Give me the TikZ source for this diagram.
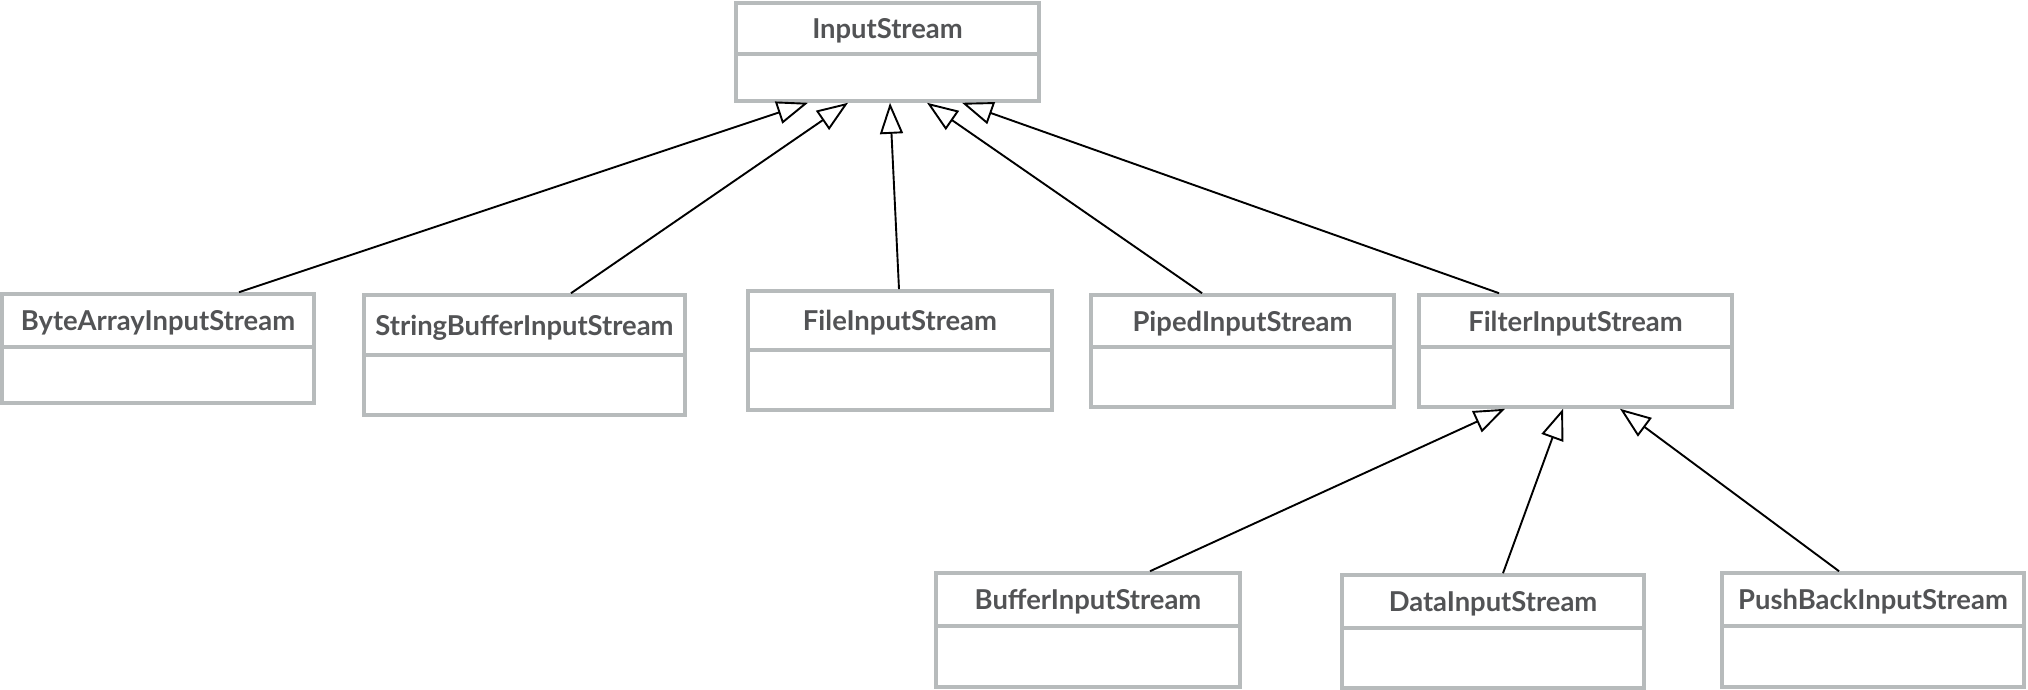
\documentclass[tikz,border=0pt]{standalone}
\usepackage{fontspec}
\setmainfont{Lato}
\usetikzlibrary{arrows.meta,fit}
\definecolor{framegray}{HTML}{B7BBBC}
\definecolor{labelgray}{HTML}{525355}

\tikzset{
  classframe/.style={draw=framegray, line width=1.8pt, inner sep=0pt},
  divider/.style={draw=framegray, line width=1.8pt},
  classname/.style={font=\bfseries\fontsize{13.7}{15}\selectfont, text=labelgray, anchor=base, inner sep=0pt},
  inherits/.style={draw=black, line width=0.95pt,
    -{Triangle[open, length=15.5pt, width=11.5pt, line width=0.95pt]}},
}

% \umlclass{name}{left}{top}{right}{divider}{bottom}{label}  (pixel units, y downward)
\newcommand\umlclass[7]{%
  \coordinate (#1-nw) at (#2,#3);
  \coordinate (#1-se) at (#4,#6);
  \node[classframe, fit=(#1-nw)(#1-se)] (#1) {};
  \draw[divider] (#2,#5) -- (#4,#5);
  \node[classname] (#1-label) at ({(#2+#4)/2},{(#3+#5)/2+10}) {#7};
}

\begin{document}
\begin{tikzpicture}[x=0.5pt, y=-0.5pt]
\useasboundingbox (0,0) rectangle (2028,690);

% base class
\umlclass{in}{736}{3}{1039}{54}{101}{InputStream}

% direct subclasses
\umlclass{byte}{2}{294}{314}{347}{403}{ByteArrayInputStream}
\umlclass{strbuf}{364}{295}{685}{355}{415}{StringBufferInputStream}
\umlclass{file}{748}{291}{1052}{350}{410}{FileInputStream}
\umlclass{piped}{1091}{295}{1394}{347}{407}{PipedInputStream}
\umlclass{filter}{1419}{295}{1732}{347}{407}{FilterInputStream}

% filter subclasses
\umlclass{buffer}{936}{573}{1240}{626}{687}{BufferInputStream}
\umlclass{data}{1342}{575}{1644}{628}{688}{DataInputStream}
\umlclass{push}{1722}{573}{2024}{626}{687}{PushBackInputStream}

% generalisation arrows
\draw[inherits] ([xshift=40.5pt]byte.north) -- ([xshift=-39.75pt]in.south);
\draw[inherits] ([xshift=23.25pt]strbuf.north) -- ([xshift=-19.75pt]in.south);
\draw[inherits] ([xshift=-0.5pt]file.north) -- ([xshift=1.25pt]in.south);
\draw[inherits] ([xshift=-20.25pt]piped.north) -- ([xshift=19.75pt]in.south);
\draw[inherits] ([xshift=-38.25pt]filter.north) -- ([xshift=37.25pt]in.south);

\draw[inherits] ([xshift=31pt]buffer.north) -- ([xshift=-35.25pt]filter.south);
\draw[inherits] ([xshift=5pt]data.north) -- ([xshift=-6.25pt]filter.south);
\draw[inherits] ([xshift=-17pt]push.north) -- ([xshift=22.25pt]filter.south);
\end{tikzpicture}
\end{document}
